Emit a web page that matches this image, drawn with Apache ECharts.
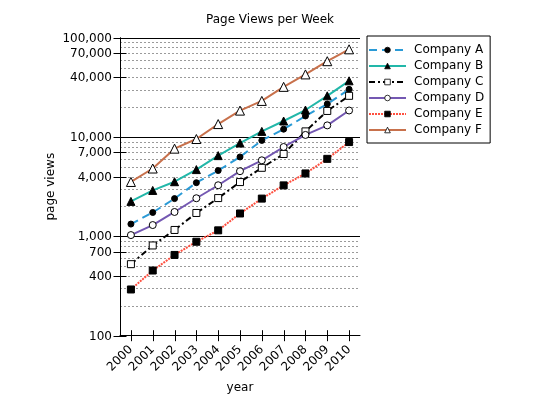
<!DOCTYPE html>
<html>
<head>
<meta charset="utf-8">
<script src="https://cdn.jsdelivr.net/npm/echarts@6/dist/echarts.min.js"></script>
<style>html,body{margin:0;padding:0;background:#fff}#c{width:550px;height:401px}</style>
</head>
<body>
<div id="c"></div>
<script>
const years = ['2000','2001','2002','2003','2004','2005','2006','2007','2008','2009','2010'];
const companyA = [1330, 1740, 2400, 3470, 4600, 6300, 9250, 12000, 16300, 21500, 30200];
const companyB = [2250, 2900, 3550, 4700, 6500, 8700, 11400, 14500, 18700, 26000, 36800];
const companyC = [525, 810, 1160, 1720, 2430, 3520, 4900, 6750, 11400, 18300, 26000];
const companyD = [1030, 1300, 1760, 2420, 3270, 4530, 5830, 7940, 10500, 13100, 18500];
const companyE = [292, 453, 650, 883, 1150, 1700, 2400, 3260, 4300, 6030, 8900];
const companyF = [3530, 4820, 7640, 9550, 13500, 18450, 23100, 32000, 42700, 58000, 76400];
const yTickValues = [100, 400, 700, 1000, 4000, 7000, 10000, 40000, 70000, 100000];
const gridMinor = [200,300,400,500,600,700,800,900,2000,3000,4000,5000,6000,7000,8000,9000,20000,30000,40000,50000,60000,70000,80000,90000];
const gridMajor = [1000, 10000, 100000];

const FONT = '"DejaVu Sans", Verdana, sans-serif';
const fmt = v => Math.round(v).toLocaleString('en-US');

function hLine(color, dash) {
  return function (params, api) {
    const cs = params.coordSys;
    const y = Math.round(api.coord([0, api.value(1)])[1]) + 0.5;
    return { type: 'line', shape: { x1: cs.x, y1: y, x2: cs.x + cs.width, y2: y },
      style: { stroke: color, lineWidth: 1, lineDash: dash } };
  };
}

const chart = echarts.init(document.getElementById('c'));
chart.setOption({
  animation: false,
  backgroundColor: '#fff',
  textStyle: { fontFamily: FONT },
  title: { text: 'Page Views per Week', left: 201, top: 9,
    textStyle: { fontSize: 12, fontWeight: 'normal', color: '#000', fontFamily: FONT } },
  legend: {
    orient: 'vertical', left: 367, top: 36,
    data: [
      { name: 'Company A', itemStyle: { borderWidth: 0.8 } },
      { name: 'Company B', itemStyle: { borderWidth: 0.8 } },
      { name: 'Company C', itemStyle: { borderWidth: 0.8 } },
      { name: 'Company D', itemStyle: { borderWidth: 0.8 } },
      { name: 'Company E', itemStyle: { borderWidth: 0.8 } },
      { name: 'Company F', itemStyle: { borderWidth: 0.8 } }
    ],
    borderColor: '#000', borderWidth: 1, borderRadius: 0,
    padding: [7, 6, 6, 1],
    itemWidth: 37, itemHeight: 7, itemGap: 2,
    textStyle: { fontSize: 12, color: '#000', fontFamily: FONT, padding: [0, 0, 0, 3], lineHeight: 14 }
  },
  grid: { left: 120, right: 190, top: 37.7, bottom: 65.3, containLabel: false },
  xAxis: {
    type: 'category', data: years, boundaryGap: true,
    axisLine: { lineStyle: { color: '#000', width: 1 } },
    axisTick: { show: false },
    axisLabel: { rotate: 45, margin: 12, fontSize: 12, color: '#000', fontFamily: FONT, interval: 0 },
    name: 'year', nameLocation: 'middle', nameGap: 46,
    nameTextStyle: { fontSize: 12, color: '#000', fontFamily: FONT }
  },
  yAxis: {
    type: 'log', logBase: 10, min: 100, max: 100000,
    axisLine: { show: true, lineStyle: { color: '#000', width: 1 } },
    axisTick: { show: false }, axisLabel: { show: false }, splitLine: { show: false },
    name: 'page views', nameLocation: 'middle', nameGap: 63, nameRotate: 90,
    nameTextStyle: { fontSize: 12, color: '#000', fontFamily: FONT }
  },
  series: [
    { type: 'custom', name: 'gridMinor', silent: true, z: 0,
      data: gridMinor.map(v => [0, v]), encode: { x: 0, y: 1 },
      renderItem: hLine('#9a9a9a', [2, 2]) },
    { type: 'custom', name: 'gridMajor', silent: true, z: 0,
      data: gridMajor.map(v => [0, v]), encode: { x: 0, y: 1 },
      renderItem: hLine('#000', null) },
    { type: 'custom', name: 'yTicks', silent: true, z: 5,
      data: yTickValues.map(v => [0, v]), encode: { x: 0, y: 1 },
      renderItem: function (params, api) {
        const cs = params.coordSys;
        const v = api.value(1);
        const y = Math.round(api.coord([0, v])[1]) + 0.5;
        return { type: 'group', children: [
          { type: 'line', shape: { x1: cs.x - 6.5, y1: y, x2: cs.x + 6.5, y2: y }, style: { stroke: '#000', lineWidth: 1 } },
          { type: 'text', style: { text: fmt(v), x: cs.x - 8, y: y, align: 'right', verticalAlign: 'middle',
              font: '12px ' + FONT, fill: '#000' } }
        ] };
      } },
    { type: 'custom', name: 'xTicks', silent: true, z: 5,
      data: years.map((yr) => [yr, 100]), encode: { x: 0, y: 1 },
      renderItem: function (params, api) {
        const cs = params.coordSys;
        const x = Math.round(api.coord([api.value(0), api.value(1)])[0]) + 0.5;
        const yb = cs.y + cs.height;
        return { type: 'line', shape: { x1: x, y1: yb - 5.5, x2: x, y2: yb + 5.5 }, style: { stroke: '#000', lineWidth: 1 } };
      } },
    { type: 'line', name: 'Company A', data: companyA, z: 10,
      symbol: 'circle', symbolSize: 6,
      lineStyle: { color: '#2a9ad6', width: 2, type: [8, 5] },
      itemStyle: { color: '#000', borderColor: '#000', borderWidth: 1 }, color: '#2a9ad6' },
    { type: 'line', name: 'Company B', data: companyB, z: 10,
      symbol: 'triangle', symbolSize: 8,
      lineStyle: { color: '#22b7a9', width: 2, type: 'solid' },
      itemStyle: { color: '#000', borderColor: '#000', borderWidth: 1 }, color: '#22b7a9' },
    { type: 'line', name: 'Company C', data: companyC, z: 10,
      symbol: 'rect', symbolSize: 7,
      lineStyle: { color: '#000', width: 2, type: [6, 3, 2, 3] },
      itemStyle: { color: '#fff', borderColor: '#000', borderWidth: 1 }, color: '#000' },
    { type: 'line', name: 'Company D', data: companyD, z: 10,
      symbol: 'circle', symbolSize: 7,
      lineStyle: { color: '#7458b2', width: 2, type: 'solid' },
      itemStyle: { color: '#fff', borderColor: '#000', borderWidth: 1 }, color: '#7458b2' },
    { type: 'line', name: 'Company E', data: companyE, z: 10,
      symbol: 'rect', symbolSize: 7,
      lineStyle: { color: '#ff5040', width: 2, type: [2, 1] },
      itemStyle: { color: '#000', borderColor: '#000', borderWidth: 1 }, color: '#ff5040' },
    { type: 'line', name: 'Company F', data: companyF, z: 10,
      symbol: 'triangle', symbolSize: 9,
      lineStyle: { color: '#c8714c', width: 2, type: 'solid' },
      itemStyle: { color: '#fff', borderColor: '#000', borderWidth: 1 }, color: '#c8714c' }
  ]
});
</script>
</body>
</html>
